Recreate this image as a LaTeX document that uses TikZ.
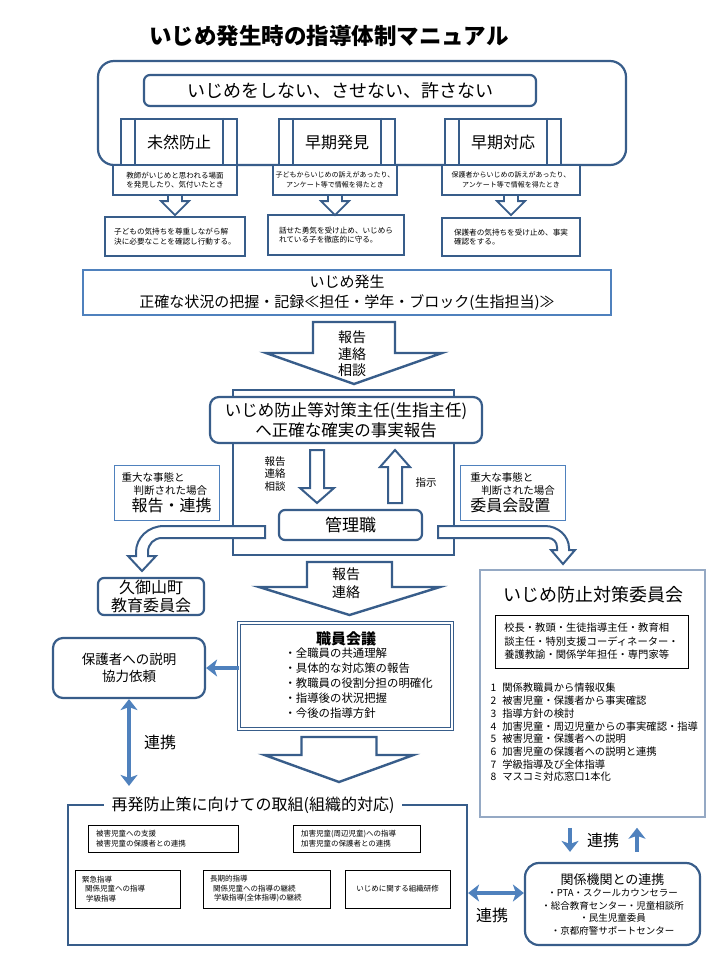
\documentclass[tikz,border=0pt]{standalone}
\usepackage{fontspec}
\setmainfont{Noto Sans CJK JP}
\usetikzlibrary{arrows.meta, positioning, calc}
\definecolor{navy}{HTML}{385D8A}
\definecolor{linkblue}{HTML}{4F81BD}
\definecolor{paleblue}{HTML}{95A9C4}
\newcommand{\jpsize}[2]{\fontsize{#1}{#2}\selectfont}

\begin{document}
\begin{tikzpicture}[x=1pt, y=-1pt,
    navybox/.style={draw=navy, line width=2.2pt, fill=white, inner sep=0pt},
    thinbox/.style={draw=black, line width=0.6pt, fill=white, inner sep=0pt},
    bluebox/.style={draw=linkblue, line width=1pt, fill=white, inner sep=0pt},
    hollow/.style={draw=navy, line width=2.2pt, fill=white, line join=miter},
    link/.style={draw=linkblue, line width=3.5pt, -{Stealth[length=11pt,width=17pt,inset=3pt]}},
    twolink/.style={draw=linkblue, line width=3.5pt, {Stealth[length=11pt,width=17pt,inset=3pt]}-{Stealth[length=11pt,width=17pt,inset=3pt]}}]
\useasboundingbox (0,0) rectangle (720,960);

% Title
\node[font=\jpsize{22.5}{27}\bfseries] (title) at (329,36) {いじめ発生時の指導体制マニュアル};

% Policy box
\node[navybox, rounded corners=16pt, minimum width=528, minimum height=104] (policy) at (362,113) {};
\node[navybox, rounded corners=6pt, minimum width=392, minimum height=31, font=\jpsize{18}{22}] (slogan) at (340,90.5) {いじめをしない、させない、許さない};
\foreach \name/\x/\txt in {mizen/179/未然防止, souki/337/早期発見, taiou/503/早期対応} {
    \node[navybox, minimum width=116, minimum height=46, font=\jpsize{16}{20}] (\name) at (\x,142) {\txt};
    \draw[navy, line width=2.2pt] ([xshift=15pt]\name.north west) -- ([xshift=15pt]\name.south west);
    \draw[navy, line width=2.2pt] ([xshift=-15pt]\name.north east) -- ([xshift=-15pt]\name.south east);
}

% Cases and first response
\node[navybox, minimum width=124, minimum height=30, align=center, font=\jpsize{7.5}{9.5}] (find1) at (175,180) {教師がいじめと思われる場面\\を発見したり、気付いたとき};
\node[navybox, minimum width=124, minimum height=30, align=center, font=\jpsize{7}{9.5}] (find2) at (335,180) {子どもからいじめの訴えがあったり、\\アンケート等で情報を得たとき};
\node[navybox, minimum width=138, minimum height=30, align=center, font=\jpsize{7}{9.5}] (find3) at (511,180) {保護者からいじめの訴えがあったり、\\アンケート等で情報を得たとき};
\node[navybox, minimum width=140, minimum height=39, align=left, font=\jpsize{7.6}{9.5}] (act1) at (175,236.5) {子どもの気持ちを尊重しながら解\\決に必要なことを確認し行動する。};
\node[navybox, minimum width=136, minimum height=40, align=left, font=\jpsize{7.6}{9.5}] (act2) at (336,235) {話せた勇気を受け止め、いじめら\\れている子を徹底的に守る。};
\node[navybox, minimum width=138, minimum height=38, align=left, font=\jpsize{7.6}{9.5}] (act3) at (511,237) {保護者の気持ちを受け止め、事実\\確認をする。};
\foreach \i in {1,2,3} {
    \draw[hollow, line width=1.8pt] ([xshift=-7pt]find\i.south) -- ++(0,5) -- ++(-7,0) -- ++(14,14) -- ++(14,-14) -- ++(-7,0) -- ++(0,-5);
}

% Occurrence
\node[draw=linkblue, line width=2pt, fill=white, minimum width=528, minimum height=45, align=center, font=\jpsize{15}{20}] (hassei) at (347,292.5) {いじめ発生\\正確な状況の把握・記録≪担任・学年・ブロック(生指担当)≫};
\draw[hollow, line width=2.4pt] (313,322) -- (395,322) -- (395,353) -- (442,353) -- (354,384) -- (266,353) -- (313,353) -- cycle;
\node[font=\jpsize{14}{16.5}, align=center] (flow1) at (352,354) {報告\\連絡\\相談};

% Leader and management
\node[navybox, minimum width=221, minimum height=165] (frame) at (343.5,472.5) {};
\node[navybox, rounded corners=9pt, minimum width=272, minimum height=46, align=center, font=\jpsize{16.5}{20}] (shunin) at (346,420) {いじめ防止等対策主任(生指主任)\\へ正確な確実の事実報告};
\draw[hollow, line width=2pt] (310,450) -- (324,450) -- (324,488) -- (334,488) -- (317,503) -- (300,488) -- (310,488) -- cycle;
\draw[hollow, line width=2pt] (388,503) -- (388,467) -- (380,467) -- (395,450) -- (410,467) -- (402,467) -- (402,503) -- cycle;
\node[font=\jpsize{10.5}{12.5}, align=center] (flow2) at (275,474) {報告\\連絡\\相談};
\node[font=\jpsize{10.5}{12.5}] (order) at (426,483) {指示};
\node[navybox, rounded corners=6pt, minimum width=143, minimum height=30, font=\jpsize{17}{20}] (kanri) at (350.5,525) {管理職};

% Serious cases
\node[bluebox, minimum width=105, minimum height=55, align=left, font=\jpsize{10.5}{13}] (report) at (166.5,492.5) {重大な事態と\\\hspace{12pt}判断された場合\\[2pt]\hspace{10pt}{\jpsize{16}{19}報告・連携}};
\node[bluebox, minimum width=105, minimum height=55, align=left, font=\jpsize{10.5}{13}] (setup) at (512.5,492.5) {重大な事態と\\\hspace{11pt}判断された場合\\[2pt]{\jpsize{16}{19}委員会設置}};
\draw[hollow, line width=2pt] (265,526) -- (164,526) .. controls (148,526) and (136,538) .. (136,552) -- (136,556) -- (128,556) -- (142,571) -- (156,556) -- (148,556) -- (148,552) .. controls (148,544) and (154,538) .. (162,538) -- (265,538) -- cycle;
\draw[hollow, line width=2pt] (438,526) -- (545,526) .. controls (558,526) and (569,536) .. (569,548) -- (569,550) -- (575,550) -- (563,564) -- (551,550) -- (557,550) -- (557,547) .. controls (557,542) and (553,538) .. (548,538) -- (438,538) -- cycle;
\node[navybox, rounded corners=6pt, minimum width=106, minimum height=37, align=center, font=\jpsize{16}{18}] (kyoiku) at (151,596.5) {久御山町\\教育委員会};

% Staff meeting
\draw[hollow, line width=2.4pt] (307,562) -- (392,562) -- (392,587) -- (440,587) -- (349.5,615) -- (259,587) -- (307,587) -- cycle;
\node[font=\jpsize{14}{18}, align=center] (flow3) at (346,583) {報告\\連絡};
\node[draw=navy, double, double distance=1.5pt, line width=0.8pt, fill=white, minimum width=213, minimum height=106] (kaigi) at (345.5,676) {};
\node[font=\jpsize{15}{18}\bfseries] (kaigihead) at (346,639) {職員会議};
\node[anchor=west, align=left, font=\jpsize{11.4}{15}] (kaigilist) at (281,683) {・全職員の共通理解\\・具体的な対応策の報告\\・教職員の役割分担の明確化\\・指導後の状況把握\\・今後の指導方針};
\node[navybox, rounded corners=10pt, minimum width=152, minimum height=60, align=center, font=\jpsize{13.5}{17}] (hogo) at (129,668) {保護者への説明\\協力依頼};
\draw[link] (kaigi.west |- hogo.east) -- (hogo.east);
\draw[hollow, line width=2.4pt] (301.5,737) -- (376.5,737) -- (376.5,755) -- (413.5,755) -- (339,782) -- (264.5,755) -- (301.5,755) -- cycle;

% Prevention of recurrence
\node[navybox, minimum width=399, minimum height=140] (saihatsu) at (267.5,875) {};
\node[fill=white, inner xsep=8pt, inner ysep=2pt, font=\jpsize{16}{20}] (saihatsutitle) at (253,805) {再発防止策に向けての取組(組織的対応)};
\node[thinbox, text width=134, inner xsep=8pt, minimum height=27, align=left, font=\jpsize{7.5}{9.5}] (shien) at (163,838.5) {被害児童への支援\\被害児童の保護者との連携};
\node[thinbox, text width=111, inner xsep=8pt, minimum height=27, align=left, font=\jpsize{7.5}{9.5}] (shido) at (356.5,838.5) {加害児童(周辺児童)への指導\\加害児童の保護者との連携};
\node[thinbox, text width=91, inner xsep=7pt, minimum height=38, align=left, font=\jpsize{7.5}{9.5}] (kinkyu) at (127.5,889) {緊急指導\\\hspace{3pt}関係児童への指導\\\hspace{4pt}学級指導};
\node[thinbox, text width=113, inner xsep=7pt, minimum height=38, align=left, font=\jpsize{7.5}{9.5}] (choki) at (266.5,889) {長期的指導\\\hspace{3pt}関係児童への指導の継続\\\hspace{4pt}学級指導(全体指導)の継続};
\node[thinbox, minimum width=105, minimum height=38, font=\jpsize{7.5}{9.5}] (kenshu) at (397.5,889) {いじめに関する組織研修};
\draw[twolink] (hogo.south) -- ([yshift=18pt]hogo.south |- saihatsu.north);
\node[font=\jpsize{16}{20}] (renkei1) at (160,742) {連携};

% Committee
\node[draw=paleblue, line width=1.5pt, fill=white, minimum width=225, minimum height=247] (iin) at (592.5,693.5) {};
\node[font=\jpsize{18}{22}] (iintitle) at (593,595) {いじめ防止対策委員会};
\node[thinbox, minimum width=193, minimum height=53, align=left, font=\jpsize{10.3}{13.5}] (member) at (591.5,641.5) {校長・教頭・生徒指導主任・教育相\\談主任・特別支援コーディネーター・\\養護教諭・関係学年担任・専門家等};
\node[anchor=west, align=left, font=\jpsize{10.3}{12.7}] (iinlist) at (487,732.5) {1\hspace{6pt}関係教職員から情報収集\\2\hspace{6pt}被害児童・保護者から事実確認\\3\hspace{6pt}指導方針の検討\\4\hspace{6pt}加害児童・周辺児童からの事実確認・指導\\5\hspace{6pt}被害児童・保護者への説明\\6\hspace{6pt}加害児童の保護者への説明と連携\\7\hspace{6pt}学級指導及び全体指導\\8\hspace{6pt}マスコミ対応窓口1本化};

% Related organisations
\node[navybox, rounded corners=14pt, minimum width=175, minimum height=82, align=center, font=\jpsize{9.5}{12.5}] (kankei) at (612.5,904) {{\jpsize{13}{15}関係機関との連携}\\・PTA・スクールカウンセラー\\・総合教育センター・児童相談所\\・民生児童委員\\・京都府警サポートセンター};
\coordinate (iinL) at ([xshift=-22.5pt]iin.south);
\coordinate (iinR) at ([xshift=44.5pt]iin.south);
\draw[link, shorten <=10pt, shorten >=10pt] (iinL) -- (iinL |- kankei.north);
\draw[link, shorten <=10pt, shorten >=10pt] (iinR |- kankei.north) -- (iinR);
\node[font=\jpsize{16}{20}] (renkei2) at (603,840) {連携};
\coordinate (linkR) at ([yshift=11pt]kankei.west);
\draw[twolink] (saihatsu.east |- linkR) -- (linkR);
\node[font=\jpsize{16}{20}] (renkei3) at (492,915) {連携};
\end{tikzpicture}
\end{document}
